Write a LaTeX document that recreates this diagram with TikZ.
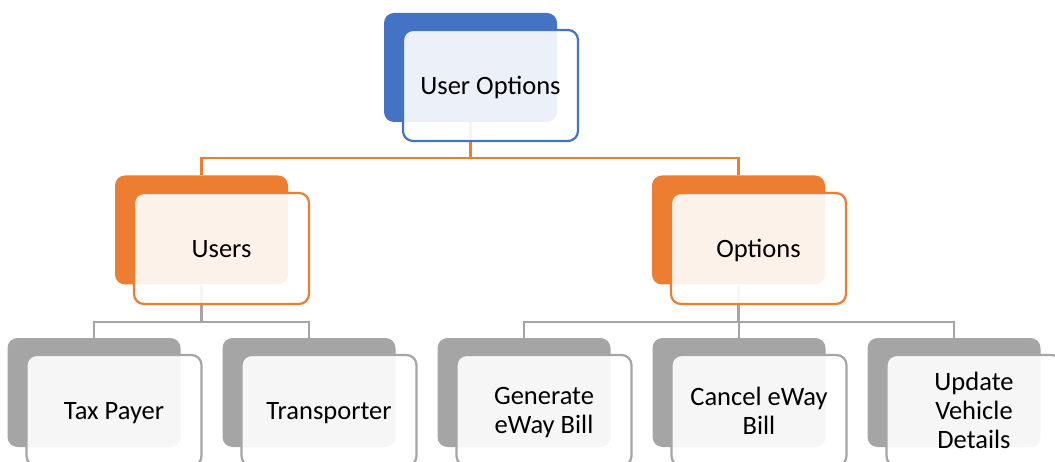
\documentclass[tikz,border=0pt]{standalone}
\usepackage{fontspec}
\setmainfont{Carlito}
\usetikzlibrary{backgrounds}
\definecolor{cblue}{HTML}{4472C4}
\definecolor{corange}{HTML}{ED7D31}
\definecolor{cgray}{HTML}{A5A5A5}
\begin{document}
\begin{tikzpicture}[x=1pt,y=1pt,
  backbox/.style={fill=#1, draw=none, rounded corners=10pt, minimum width=173pt, minimum height=109pt, inner sep=0pt},
  frontbox/.style={draw=#1, line width=2.2pt, fill=white, fill opacity=0.9, text opacity=1, rounded corners=10pt, minimum width=175pt, minimum height=111pt, inner sep=0pt, align=center, text depth=0pt, font=\fontsize{26.5}{29}\selectfont},
  conn/.style={draw=#1, line width=2.2pt}]
\useasboundingbox (0,0) rectangle (1055,461);
% top
\node[backbox=cblue] (uob) at (470.5,393.5) {};
\node[frontbox=cblue] (uof) at (490.5,375.5) {User Options};
% second level
\node[backbox=corange] (usb) at (201.5,231) {};
\node[frontbox=corange] (usf) at (221.5,212.5) {Users};
\node[backbox=corange] (opb) at (738.5,231) {};
\node[frontbox=corange] (opf) at (758.5,212.5) {Options};
% third level
\node[backbox=cgray] (tpb) at (94,68.5) {};
\node[frontbox=cgray] (tpf) at (114,50.5) {Tax Payer};
\node[backbox=cgray] (trb) at (309,68.5) {};
\node[frontbox=cgray] (trf) at (329,50.5) {Transporter};
\node[backbox=cgray] (geb) at (524,68.5) {};
\node[frontbox=cgray] (gef) at (544,50.5) {Generate\\eWay Bill};
\node[backbox=cgray] (ceb) at (739,68.5) {};
\node[frontbox=cgray] (cef) at (759,50.5) {Cancel eWay\\Bill};
\node[backbox=cgray] (upb) at (954,68.5) {};
\node[frontbox=cgray] (upf) at (974,50.5) {Update\\Vehicle\\Details};
% connectors
\begin{scope}[on background layer]
\draw[conn=corange] (uob.south) -- ++(0,-36) coordinate (bus1) -| (usb.north);
\draw[conn=corange] (bus1) -| (opb.north);
\draw[conn=cgray] (usb.south) -- ++(0,-37) coordinate (bus2) -| (tpb.north);
\draw[conn=cgray] (bus2) -| (trb.north);
\draw[conn=cgray] (opb.south) -- ++(0,-37) coordinate (bus3) -| (geb.north);
\draw[conn=cgray] (bus3) -| (ceb.north);
\draw[conn=cgray] (bus3) -| (upb.north);
\end{scope}
\end{tikzpicture}
\end{document}
